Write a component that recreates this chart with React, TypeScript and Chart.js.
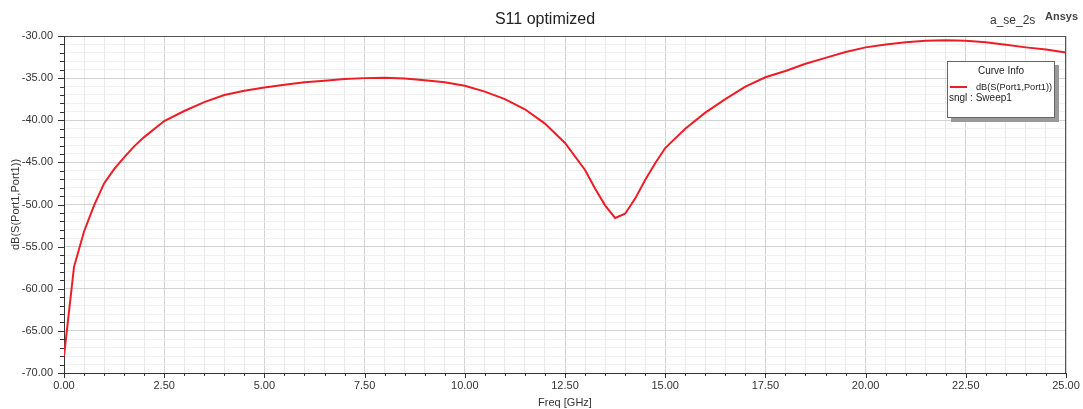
import { useEffect, useRef } from "react";
import { Chart, registerables } from "chart.js";

Chart.register(...registerables);

// Sweep frequencies (GHz) and matching return loss dB(S(Port1,Port1))
const freqGHz = [
  0, 0.25, 0.5, 0.75, 1.0, 1.25, 1.5, 1.75, 2.0, 2.5, 3.0, 3.5, 4.0, 4.5, 5.0,
  5.5, 6.0, 6.5, 7.0, 7.5, 8.0, 8.5, 9.0, 9.5, 10.0, 10.5, 11.0, 11.5, 12.0,
  12.5, 13.0, 13.25, 13.5, 13.75, 14.0, 14.25, 14.5, 14.75, 15.0, 15.5, 16.0,
  16.5, 17.0, 17.5, 18.0, 18.5, 19.0, 19.5, 20.0, 20.5, 21.0, 21.5, 22.0, 22.5,
  23.0, 23.5, 24.0, 24.5, 25.0,
];
const s11dB = [
  -68.0, -57.4, -53.2, -50.1, -47.5, -45.8, -44.4, -43.1, -42.0, -40.1, -38.9,
  -37.85, -37.0, -36.5, -36.1, -35.8, -35.5, -35.3, -35.1, -35.0, -34.95,
  -35.05, -35.25, -35.5, -35.9, -36.6, -37.5, -38.7, -40.4, -42.7, -45.9,
  -48.1, -50.1, -51.6, -51.1, -49.3, -47.1, -45.1, -43.3, -41.0, -39.1, -37.5,
  -36.0, -34.9, -34.15, -33.3, -32.6, -31.9, -31.35, -31.0, -30.75, -30.55,
  -30.5, -30.55, -30.75, -31.05, -31.35, -31.6, -31.95,
];

// Labelled (major) ticks on each axis
const xMajorTicks = [0, 2.5, 5, 7.5, 10, 12.5, 15, 17.5, 20, 22.5, 25];
const yMajorTicks = [-70, -65, -60, -55, -50, -45, -40, -35, -30];

const chartTitle = "S11 optimized";
const designName = "a_se_2s";
const brandName = "Ansys";
const xAxisTitle = "Freq [GHz]";
const yAxisTitle = "dB(S(Port1,Port1))";
const legendTitle = "Curve Info";
const traceName = "dB(S(Port1,Port1))";
const sweepName = "sngl : Sweep1";

const FONT = "'Liberation Sans', Arial, sans-serif";
const CURVE_RED = "#ee1c25";

const isMajor = (list: number[], v: number) =>
  list.some((m) => Math.abs(m - v) < 1e-6);

const decorations = {
  id: "decorations",
  beforeDatasetsDraw(chart: any) {
    const { ctx, chartArea } = chart;
    const { left, right, top, bottom } = chartArea;
    const xs = chart.scales.x;
    const ys = chart.scales.y;
    ctx.save();
    // frame
    ctx.strokeStyle = "#555";
    ctx.lineWidth = 1;
    ctx.strokeRect(left + 0.5, top + 0.5, right - left - 1, bottom - top);
    ctx.strokeStyle = "#333";
    ctx.beginPath();
    ctx.moveTo(left + 0.5, top);
    ctx.lineTo(left + 0.5, bottom + 0.5);
    ctx.lineTo(right, bottom + 0.5);
    ctx.stroke();
    // tick marks
    ctx.strokeStyle = "#333";
    ctx.beginPath();
    for (let v = -70; v <= -30; v += 1) {
      const y = Math.round(ys.getPixelForValue(v)) + 0.5;
      const len = isMajor(yMajorTicks, v) ? 6 : 4;
      ctx.moveTo(left - len, y);
      ctx.lineTo(left, y);
    }
    for (let i = 0; i <= 50; i++) {
      const v = i * 0.5;
      const x = Math.round(xs.getPixelForValue(v)) + 0.5;
      const len = isMajor(xMajorTicks, v) ? 5 : 3;
      ctx.moveTo(x, bottom);
      ctx.lineTo(x, bottom + len);
    }
    ctx.stroke();
    ctx.restore();
  },
  afterDraw(chart: any) {
    const { ctx, chartArea } = chart;
    const { left, right, top, bottom } = chartArea;
    ctx.save();
    ctx.fillStyle = "#222";
    ctx.textBaseline = "middle";

    // title and header texts
    ctx.font = `16px ${FONT}`;
    ctx.textAlign = "center";
    ctx.fillText(chartTitle, 545, 20);
    ctx.font = `12px ${FONT}`;
    ctx.textAlign = "left";
    ctx.fillStyle = "#333";
    ctx.fillText(designName, 990, 21);
    ctx.font = `bold 11px ${FONT}`;
    ctx.fillStyle = "#444";
    ctx.fillText(brandName, 1045, 17);

    // axis titles
    ctx.fillStyle = "#333";
    ctx.font = `11px ${FONT}`;
    ctx.textAlign = "center";
    ctx.fillText(xAxisTitle, (left + right) / 2, 403);
    ctx.save();
    ctx.translate(16, (top + bottom) / 2);
    ctx.rotate(-Math.PI / 2);
    ctx.fillText(yAxisTitle, 0, 0);
    ctx.restore();

    // curve info box
    const bx = 947, by = 61, bw = 108, bh = 57;
    ctx.fillStyle = "#9a9a9a";
    ctx.fillRect(bx + 4, by + 4, bw, bh);
    ctx.fillStyle = "#ffffff";
    ctx.fillRect(bx, by, bw, bh);
    ctx.strokeStyle = "#666";
    ctx.lineWidth = 1;
    ctx.strokeRect(bx + 0.5, by + 0.5, bw - 1, bh - 1);
    ctx.fillStyle = "#222";
    ctx.font = `10px ${FONT}`;
    ctx.textAlign = "center";
    ctx.fillText(legendTitle, 1001, 71);
    ctx.strokeStyle = CURVE_RED;
    ctx.lineWidth = 2;
    ctx.beginPath();
    ctx.moveTo(950, 87);
    ctx.lineTo(967, 87);
    ctx.stroke();
    ctx.textAlign = "left";
    ctx.font = `9.2px ${FONT}`;
    ctx.fillText(traceName, 976, 87);
    ctx.font = `10px ${FONT}`;
    ctx.fillText(sweepName, 949, 98);
    ctx.restore();
  },
};

export default function App() {
  const canvasRef = useRef<HTMLCanvasElement | null>(null);

  useEffect(() => {
    document.body.style.margin = "0";
    const canvas = canvasRef.current;
    if (!canvas) return;
    const points = freqGHz.map((f, i) => ({ x: f, y: s11dB[i] }));

    const chart = new Chart(canvas, {
      type: "line",
      data: {
        datasets: [
          {
            label: traceName,
            data: points,
            borderColor: CURVE_RED,
            borderWidth: 2,
            pointRadius: 0,
            tension: 0,
            fill: false,
          },
        ],
      },
      options: {
        responsive: false,
        devicePixelRatio: 1,
        animation: false,
        layout: { padding: { top: 36, right: 17, bottom: 0, left: 0 } },
        plugins: {
          legend: { display: false },
          title: { display: false },
          tooltip: { enabled: false },
        },
        scales: {
          x: {
            type: "linear",
            min: 0,
            max: 25,
            border: { display: false },
            afterFit: (s: any) => {
              s.height = 36;
              s.paddingLeft = 0;
              s.paddingRight = 0;
            },
            grid: {
              drawTicks: false,
              color: (c: any) =>
                isMajor(xMajorTicks, c.tick.value) ? "#d2d2d2" : "#e9e9e9",
              lineWidth: 1,
            },
            ticks: {
              stepSize: 0.5,
              autoSkip: false,
              maxRotation: 0,
              padding: 6,
              color: "#333",
              font: { family: FONT, size: 11 },
              callback: (v: any) =>
                isMajor(xMajorTicks, Number(v)) ? Number(v).toFixed(2) : "",
            },
          },
          y: {
            type: "linear",
            min: -70,
            max: -30,
            border: { display: false },
            afterFit: (s: any) => {
              s.width = 64;
              s.paddingTop = 0;
              s.paddingBottom = 0;
            },
            grid: {
              drawTicks: false,
              color: (c: any) =>
                isMajor(yMajorTicks, c.tick.value) ? "#d2d2d2" : "#f0f0f0",
              lineWidth: 1,
            },
            ticks: {
              stepSize: 1,
              autoSkip: false,
              padding: 11,
              color: "#333",
              font: { family: FONT, size: 11 },
              callback: (v: any) =>
                isMajor(yMajorTicks, Number(v)) ? Number(v).toFixed(2) : "",
            },
          },
        },
      },
      plugins: [decorations],
    });
    return () => chart.destroy();
  }, []);

  return (
    <div style={{ width: 1083, height: 409, background: "#fff" }}>
      <canvas ref={canvasRef} width={1083} height={409} />
    </div>
  );
}
